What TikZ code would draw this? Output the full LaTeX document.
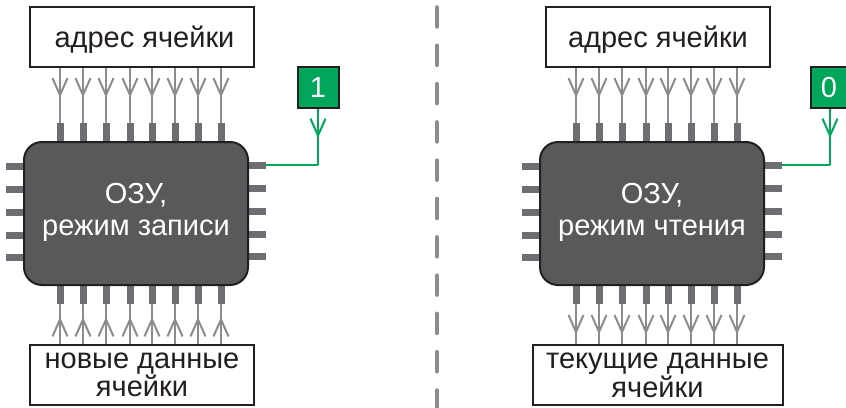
\documentclass[tikz,border=0pt]{standalone}
\usepackage{fontspec}
\setmainfont{Liberation Sans}
\definecolor{ramgray}{RGB}{88, 89, 91}
\definecolor{pingray}{RGB}{109, 110, 113}
\definecolor{wiregray}{RGB}{138, 140, 142}
\definecolor{ramgreen}{RGB}{0, 166, 90}
\definecolor{ramblack}{RGB}{35, 31, 32}
\usetikzlibrary{arrows.meta, decorations.markings}
\tikzset{
    chipbox/.style={draw=ramblack, line width=2pt, fill=ramgray, rounded corners=18pt, minimum width=224pt, minimum height=143pt, inner sep=0pt, align=center, text=white, text depth=8pt, font=\fontsize{29}{32}\selectfont},
    labelbox/.style={draw=ramblack, line width=2pt, fill=white, minimum width=224pt, minimum height=60pt, inner sep=0pt, align=center, text=ramblack, font=\fontsize{29}{26}\selectfont},
    flagbox/.style={draw=ramblack, line width=2pt, fill=ramgreen, minimum height=41pt, inner sep=0pt, text=white, font=\fontsize{29}{30}\selectfont},
    vpin/.style={fill=pingray, minimum width=7pt, minimum height=19pt, inner sep=0pt},
    hpin/.style={fill=pingray, minimum width=18pt, minimum height=7pt, inner sep=0pt},
    wiredown/.style={draw=wiregray, line width=2pt, decoration={markings, mark=at position #1 with {\arrow[wiregray, line width=2pt]{Straight Barb[length=17pt, width=15pt]}}}, postaction={decorate}},
    wireup/.style={draw=wiregray, line width=2pt, decoration={markings, mark=at position #1 with {\arrowreversed[wiregray, line width=2pt]{Straight Barb[length=17pt, width=15pt]}}}, postaction={decorate}},
    flagwire/.style={draw=ramgreen, line width=2pt, decoration={markings, mark=at position #1 with {\arrow[ramgreen, line width=2pt]{Straight Barb[length=17pt, width=15pt]}}}, postaction={decorate}},
}

\begin{document}
\begin{tikzpicture}[x=1pt, y=-1pt]
\useasboundingbox (0,0) rectangle (846,407);

% === Запись ===
\begin{scope}[shift={(0,0)}]
    \foreach \n/\x in {1/60, 2/83, 3/106, 4/130, 5/152, 6/175, 7/198, 8/221} {
        \node[vpin] (wt\n) at (\x, 132.5) {};
        \node[vpin] (wb\n) at (\x, 294.5) {};
    }
    \foreach \n/\y in {1/166, 2/189, 3/212, 4/235, 5/257} {
        \node[hpin] (wl\n) at (15, \y) {};
    }
    \foreach \n/\y in {1/165, 2/188, 3/211, 4/234, 5/256} {
        \node[hpin] (wr\n) at (257, \y) {};
    }
    \node[chipbox] (wchip) at (136, 213.5) {ОЗУ,\\режим записи};
    \node[labelbox, text depth=0pt] (waddr) at (142, 37) {\hspace{5pt}адрес ячейки};
    \node[labelbox, text depth=-5pt] (wdata) at (142, 375) {новые данные\\ячейки};
    \node[flagbox, minimum width=41pt] (wflag) at (318, 87.5) {1};

    % Шины
    \foreach \n in {1,...,8} {
        \draw[wiredown=0.54] (wt\n.north |- waddr.south) -- (wt\n.north);
        \draw[wireup=0.32] (wb\n.south) -- (wb\n.south |- wdata.north);
    }
    \coordinate (wbend) at (wflag.south |- wr1.east);
    \draw[flagwire=0.52] (wflag.south) -- (wbend);
    \draw[ramgreen, line width=2pt] (wbend) -- (wr1.east);
\end{scope}

% === Разделитель ===
\coordinate (dtop) at (437, 7.5);
\coordinate (dbot) at (437, 407);
\draw[wiregray, line width=4.6pt, line cap=round, dash pattern=on 19pt off 19.3pt] (dtop) -- (dbot);

% === Чтение ===
\begin{scope}[shift={(516,0)}]
    \foreach \n/\x in {1/60, 2/83, 3/106, 4/130, 5/152, 6/175, 7/198, 8/221} {
        \node[vpin] (rt\n) at (\x, 132.5) {};
        \node[vpin] (rb\n) at (\x, 294.5) {};
    }
    \foreach \n/\y in {1/166, 2/189, 3/212, 4/235, 5/257} {
        \node[hpin] (rl\n) at (15, \y) {};
    }
    \foreach \n/\y in {1/165, 2/188, 3/211, 4/234, 5/256} {
        \node[hpin] (rr\n) at (257, \y) {};
    }
    \node[chipbox] (rchip) at (136, 213.5) {ОЗУ,\\режим чтения};
    \node[labelbox, text depth=0pt] (raddr) at (142, 37) {адрес ячейки};
    \node[labelbox, text depth=-5pt, minimum width=250pt] (rdata) at (141.5, 375) {текущие данные\\ячейки};
    \node[flagbox, minimum width=37pt] (rflag) at (313, 87.5) {0};

    % Шины
    \foreach \n in {1,...,8} {
        \draw[wiredown=0.54] (rt\n.north |- raddr.south) -- (rt\n.north);
        \draw[wiredown=0.76] (rb\n.south) -- (rb\n.south |- rdata.north);
    }
    \coordinate (rbend) at (314, 165);
    \draw[flagwire=0.52] (rbend |- rflag.south) -- (rbend);
    \draw[ramgreen, line width=2pt] (rbend) -- (rr1.east);
\end{scope}

\end{tikzpicture}
\end{document}
